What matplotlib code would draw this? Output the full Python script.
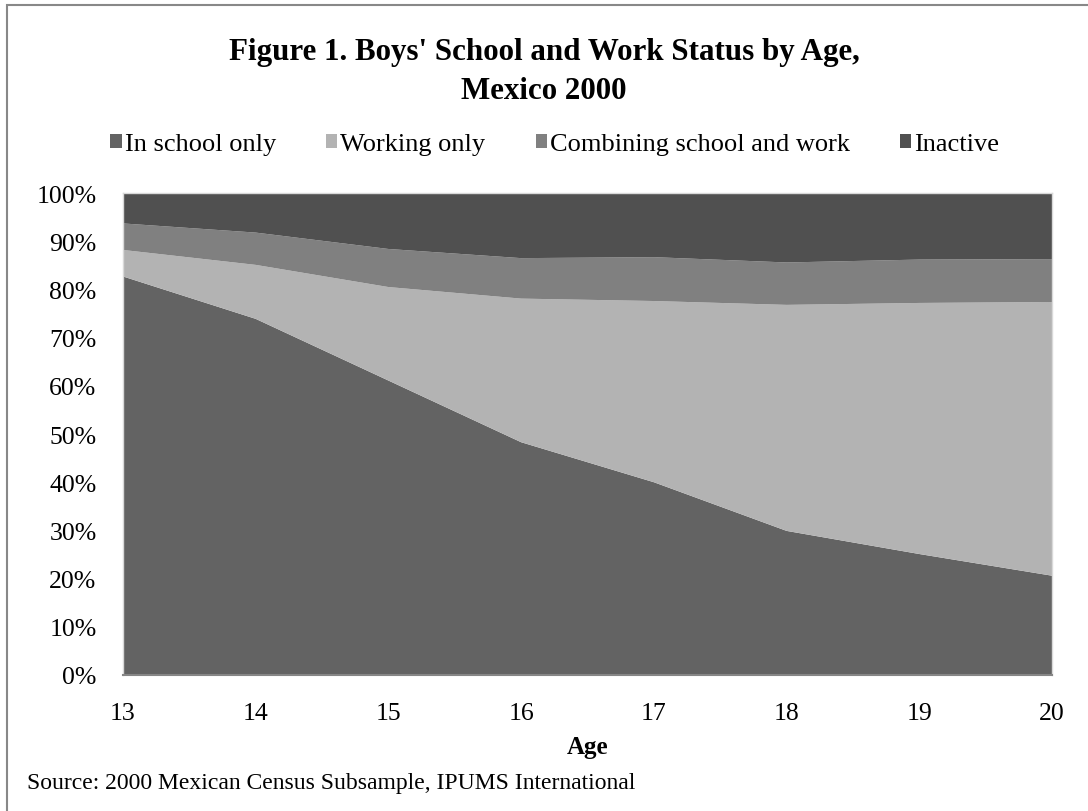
import numpy as np
import matplotlib
matplotlib.use('Agg')
from matplotlib import pyplot as plt
from matplotlib.patches import Rectangle
from matplotlib.ticker import FuncFormatter

plt.rcParams['font.family'] = ['Liberation Serif', 'DejaVu Serif']

ages = [13, 14, 15, 16, 17, 18, 19, 20]
# shares in percent, each series on its own (stacked bottom to top)
school_only = [82.7, 73.9, 61.1, 48.3, 40.0, 29.9, 25.1, 20.6]
working_only = [5.5, 11.2, 19.4, 29.8, 37.6, 46.9, 52.1, 56.8]
combining = [5.5, 6.7, 7.9, 8.4, 9.1, 8.8, 9.0, 8.9]
inactive = [6.3, 8.2, 11.6, 13.5, 13.3, 14.4, 13.8, 13.7]

labels = ['In school only', 'Working only', 'Combining school and work', 'Inactive']
colors = ['#636363', '#b3b3b3', '#808080', '#505050']

fig = plt.figure(figsize=(10.88, 8.12), dpi=100)
ax = fig.add_axes([0.113, 0.1675, 0.854, 0.5935])

polys = ax.stackplot(ages, school_only, working_only, combining, inactive,
                     colors=colors, labels=labels, linewidth=0)

ax.set_xlim(13, 20)
ax.set_ylim(0, 100)
ax.set_yticks(np.arange(0, 101, 10))
ax.yaxis.set_major_formatter(FuncFormatter(lambda v, p: '%d%%' % v))
ax.set_xticks(ages)
ax.tick_params(length=0, labelsize=18.5)
ax.tick_params(axis='y', pad=19)
ax.tick_params(axis='x', pad=19.5)
for s in ['top', 'right', 'left']:
    ax.spines[s].set_color('#d9d9d9')
    ax.spines[s].set_linewidth(1)
ax.spines['bottom'].set_color('#868686')
ax.spines['bottom'].set_linewidth(1.5)

ax.set_xlabel('Age', fontsize=18, fontweight='bold', labelpad=8)

fig.text(0.5, 0.911, "Figure 1. Boys' School and Work Status by Age,\nMexico 2000",
         ha='center', va='center', fontsize=22.3, fontweight='bold', linespacing=1.45)

fig.legend(handles=polys, labels=labels, loc='center', bbox_to_anchor=(0.51, 0.821),
           ncol=4, frameon=False, fontsize=19, handlelength=0.42, handleheight=0.42,
           handletextpad=0.12, columnspacing=1.9)

fig.text(0.025, 0.0357, 'Source: 2000 Mexican Census Subsample, IPUMS International',
         ha='left', va='center', fontsize=17)

# outer frame around the whole chart
fig.patches.append(Rectangle((0.0065, -0.05), 1.1, 1.0425, transform=fig.transFigure,
                             fill=False, edgecolor='#888888', linewidth=1.5))

fig.savefig('out.png', dpi=100)
